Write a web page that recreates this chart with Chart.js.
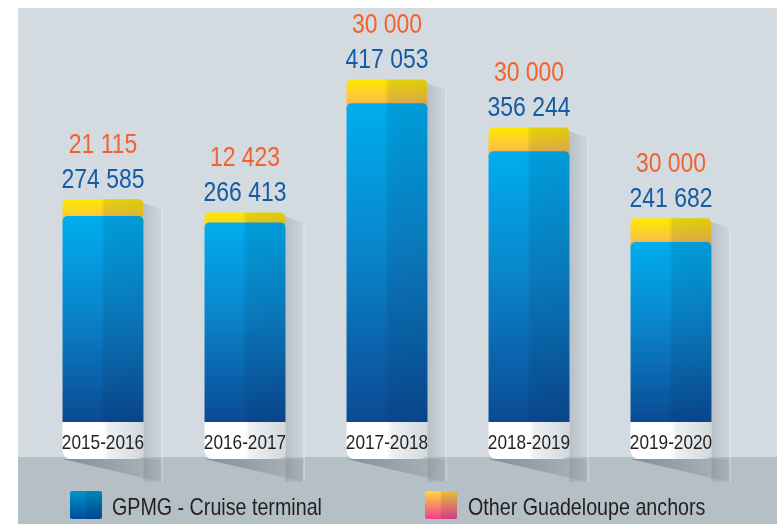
<!DOCTYPE html>
<html>
<head>
<meta charset="utf-8">
<script src="https://cdn.jsdelivr.net/npm/chart.js@4/dist/chart.umd.min.js"></script>
<style>
  html, body { margin: 0; padding: 0; background: #ffffff; }
  #wrap { position: relative; width: 777px; height: 524px; }
</style>
</head>
<body>
<div id="wrap"><canvas id="c" width="777" height="524"></canvas></div>
<script>
// ---- data ----
const categories = ['2015-2016', '2016-2017', '2017-2018', '2018-2019', '2019-2020'];
const gpmgValues = [274585, 266413, 417053, 356244, 241682];
const otherValues = [21115, 12423, 30000, 30000, 30000];
const seriesNames = ['GPMG - Cruise terminal', 'Other Guadeloupe anchors'];

const FONT = '"Liberation Sans", Arial, sans-serif';
const SQUEEZE = 0.82; // condensed look
const fmt = n => String(n).replace(/\B(?=(\d{3})+(?!\d))/g, ' ');

function narrowText(c, text, x, y, size, color, align) {
  c.save();
  c.translate(x, y);
  c.scale(SQUEEZE, 1);
  c.font = size + 'px ' + FONT;
  c.fillStyle = color;
  c.textAlign = align;
  c.textBaseline = 'middle';
  c.fillText(text, 0, 0);
  c.restore();
}

function blueGradient(c, top, bottom) {
  const g = c.createLinearGradient(0, top, 0, bottom);
  g.addColorStop(0, '#00aeef');
  g.addColorStop(0.45, '#0a86cc');
  g.addColorStop(1, '#0b4a94');
  return g;
}
function otherGradient(c, top) {
  const g = c.createLinearGradient(0, top, 0, top + 70);
  g.addColorStop(0, '#ffe800');
  g.addColorStop(0.28, '#fbc63c');
  g.addColorStop(0.4, '#f8a85a');
  g.addColorStop(1, '#ec3f8e');
  return g;
}

const decor = {
  id: 'decor',
  beforeDraw(chart) {
    const c = chart.ctx;
    c.save();
    c.fillStyle = '#ffffff';
    c.fillRect(0, 0, chart.width, chart.height);
    c.fillStyle = '#d3dae0';
    c.fillRect(18, 8, chart.width - 18, chart.height - 8);
    c.fillStyle = '#b4bfc6';
    c.fillRect(18, 457, chart.width - 18, chart.height - 457);
    c.restore();
  },
  beforeDatasetsDraw(chart) {
    const c = chart.ctx;
    const m0 = chart.getDatasetMeta(0), m1 = chart.getDatasetMeta(1);
    const area = chart.chartArea;
    c.save();
    m0.data.forEach((el, i) => {
      const w = el.width, left = el.x - w / 2, right = el.x + w / 2;
      const top = m1.data[i].y;
      const boxBottom = area.bottom + 37;
      const floorY = boxBottom + 23;
      // side strip
      let g = c.createLinearGradient(right, 0, right + 18, 0);
      g.addColorStop(0, 'rgba(120,132,142,0.30)');
      g.addColorStop(1, 'rgba(150,160,170,0.10)');
      c.fillStyle = g;
      c.beginPath();
      c.moveTo(right, top + 4);
      c.lineTo(right + 18, top + 10);
      c.lineTo(right + 18, floorY);
      c.lineTo(right, floorY);
      c.closePath();
      c.fill();
      c.strokeStyle = 'rgba(235,240,243,0.7)';
      c.lineWidth = 1;
      c.beginPath();
      c.moveTo(right + 18.5, top + 10);
      c.lineTo(right + 18.5, floorY);
      c.stroke();
      // floor shadow
      g = c.createLinearGradient(left, 0, right + 18, 0);
      g.addColorStop(0, 'rgba(70,80,90,0.45)');
      g.addColorStop(1, 'rgba(90,100,110,0.12)');
      c.fillStyle = g;
      c.beginPath();
      c.moveTo(left, boxBottom);
      c.lineTo(right + 18, boxBottom);
      c.lineTo(right + 18, floorY);
      c.closePath();
      c.fill();
    });
    c.restore();
  },
  afterDatasetDraw(chart, args) {
    if (args.index !== 1) return;
    const c = chart.ctx;
    c.save();
    args.meta.data.forEach(el => {
      const w = el.width;
      c.fillStyle = otherGradient(c, el.y);
      c.fillRect(el.x - w / 2, el.base - 1, w, 8);
    });
    c.restore();
  },
  afterDatasetsDraw(chart) {
    const c = chart.ctx;
    const m0 = chart.getDatasetMeta(0), m1 = chart.getDatasetMeta(1);
    const area = chart.chartArea;
    c.save();
    m0.data.forEach((el, i) => {
      const w = el.width, left = el.x - w / 2;
      const top = m1.data[i].y;
      // two-tone overlay
      let g = c.createLinearGradient(left, 0, left + w, 0);
      g.addColorStop(0, 'rgba(0,0,0,0)');
      g.addColorStop(0.47, 'rgba(0,0,0,0)');
      g.addColorStop(0.53, 'rgba(0,25,60,0.11)');
      g.addColorStop(1, 'rgba(0,25,60,0.13)');
      c.fillStyle = g;
      c.beginPath();
      c.roundRect(left, top, w, area.bottom - top, [5, 5, 0, 0]);
      c.fill();
      // category label box
      g = c.createLinearGradient(left, 0, left + w, 0);
      g.addColorStop(0, '#ffffff');
      g.addColorStop(0.5, '#ffffff');
      g.addColorStop(0.56, '#eef1f2');
      g.addColorStop(1, '#d2d8dc');
      c.fillStyle = g;
      c.beginPath();
      c.roundRect(left, area.bottom, w, 37, [0, 0, 8, 8]);
      c.fill();
      narrowText(c, categories[i], el.x, area.bottom + 21, 21, '#231f20', 'center');
      // value labels
      narrowText(c, fmt(gpmgValues[i]), el.x, top - 19, 28, '#165ca5', 'center');
      narrowText(c, fmt(otherValues[i]), el.x, top - 54, 28, '#f2622e', 'center');
    });
    c.restore();
  },
  afterDraw(chart) {
    const c = chart.ctx;
    c.save();
    const sw = [
      {x: 70, stops: [['#0093cc', 0], ['#004d99', 1]]},
      {x: 425, stops: [['#ffd83a', 0], ['#f78a6a', 0.5], ['#ec3f8e', 1]]}
    ];
    const textX = [112, 468];
    sw.forEach((s, k) => {
      let g = c.createLinearGradient(0, 491, 0, 519);
      s.stops.forEach(([col, p]) => g.addColorStop(p, col));
      c.fillStyle = g;
      c.beginPath();
      c.roundRect(s.x, 491, 32, 28, 2);
      c.fill();
      g = c.createLinearGradient(s.x, 0, s.x + 32, 0);
      g.addColorStop(0, 'rgba(0,0,0,0)');
      g.addColorStop(0.48, 'rgba(0,0,0,0)');
      g.addColorStop(0.52, 'rgba(0,20,40,0.10)');
      g.addColorStop(1, 'rgba(0,20,40,0.12)');
      c.fillStyle = g;
      c.beginPath();
      c.roundRect(s.x, 491, 32, 28, 2);
      c.fill();
      narrowText(c, seriesNames[k], textX[k], 508, 24, '#231f20', 'left');
    });
    c.restore();
  }
};

const chart = new Chart(document.getElementById('c'), {
  type: 'bar',
  data: {
    labels: categories,
    datasets: [
      {
        label: seriesNames[0],
        data: gpmgValues,
        backgroundColor: ctx => {
          const ch = ctx.chart;
          if (!ch.chartArea || !ch.scales.y) return '#0a86cc';
          const top = ch.scales.y.getPixelForValue(gpmgValues[ctx.dataIndex]);
          return blueGradient(ch.ctx, top, ch.chartArea.bottom);
        },
        borderRadius: {topLeft: 5, topRight: 5, bottomLeft: 0, bottomRight: 0},
        borderSkipped: 'start'
      },
      {
        label: seriesNames[1],
        data: otherValues,
        backgroundColor: ctx => {
          const ch = ctx.chart;
          if (!ch.chartArea || !ch.scales.y) return '#ffe800';
          const i = ctx.dataIndex;
          const top = ch.scales.y.getPixelForValue(gpmgValues[i] + otherValues[i]);
          return otherGradient(ch.ctx, top);
        },
        borderRadius: {topLeft: 5, topRight: 5, bottomLeft: 0, bottomRight: 0},
        borderSkipped: 'start'
      }
    ]
  },
  options: {
    responsive: false,
    animation: false,
    devicePixelRatio: 1,
    layout: { padding: { left: 32, right: 35, top: 8, bottom: 102 } },
    datasets: { bar: { categoryPercentage: 1, barPercentage: 0.57 } },
    scales: {
      x: {
        stacked: true,
        display: false
      },
      y: {
        stacked: true,
        display: false,
        min: 14000,
        max: 537500
      }
    },
    plugins: {
      legend: { display: false },
      tooltip: { enabled: false }
    }
  },
  plugins: [decor]
});
</script>
</body>
</html>
